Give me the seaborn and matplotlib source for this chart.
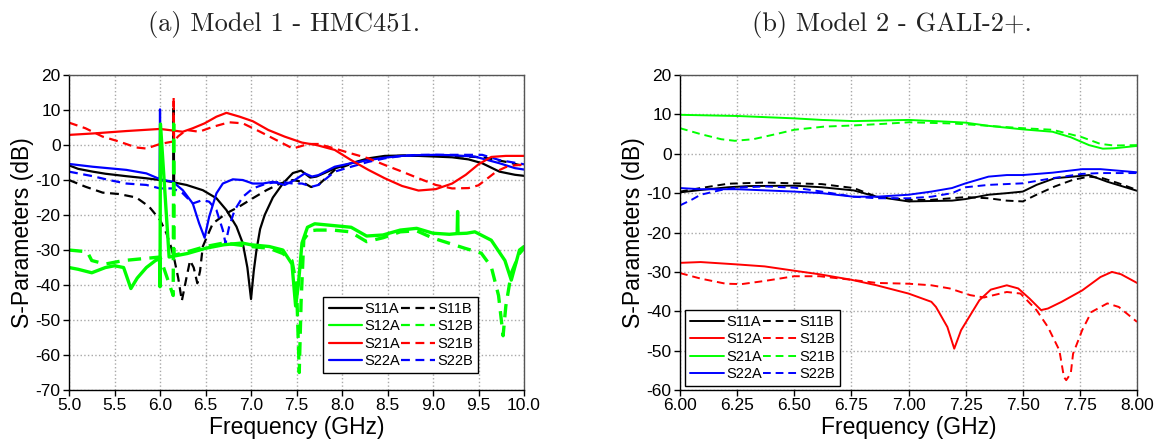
import matplotlib
matplotlib.use("Agg")
import matplotlib.pyplot as plt
from matplotlib.lines import Line2D
import seaborn as sns
import pandas as pd

sns.set_theme(style="white")
plt.rcParams["font.family"] = ["Liberation Sans", "DejaVu Sans"]
plt.rcParams["axes.unicode_minus"] = False

# ---------------- Model 1 - HMC451 (5 - 10 GHz) ----------------
hmc_s11a_f = [5.00, 5.10, 5.26, 5.40, 5.63, 5.85, 6.00, 6.145, 6.150, 6.155, 6.29, 6.47, 6.62,
              6.73, 6.84, 6.91, 6.96, 7.00, 7.03, 7.06, 7.10, 7.15, 7.24, 7.35, 7.46, 7.55, 7.65,
              7.72, 7.92, 8.10, 8.29, 8.47, 8.66, 8.84, 9.03, 9.21, 9.39, 9.54, 9.73, 9.90, 10.00]
hmc_s11a_db = [-5.8, -6.8, -7.6, -8.2, -8.9, -9.5, -10.0, -10.6, 10.5, -10.7, -11.4, -12.9, -15.2,
               -18.6, -23.3, -28.1, -35.0, -44.0, -36.0, -30.0, -24.0, -20.0, -15.0, -11.0, -8.0, -7.3, -9.3,
               -9.0, -6.7, -5.2, -3.8, -3.1, -3.0, -3.1, -3.3, -3.5, -4.1, -5.2, -7.6, -8.5, -8.8]

hmc_s11b_f = [5.00, 5.18, 5.37, 5.55, 5.74, 5.88, 6.00, 6.07, 6.12, 6.16, 6.20, 6.24, 6.29, 6.33,
              6.37, 6.41, 6.44, 6.47, 6.58, 6.73, 6.87, 7.02, 7.17, 7.32, 7.46, 7.56, 7.66, 7.74,
              7.92, 8.10, 8.29, 8.47, 8.70, 9.00, 9.21, 9.54, 9.80, 10.00]
hmc_s11b_db = [-10.0, -11.9, -13.6, -14.0, -15.0, -17.6, -21.4, -25.2, -29.0, -33.0, -38.0, -44.5, -38.0, -33.0,
               -35.0, -39.5, -36.0, -29.0, -22.4, -19.5, -17.6, -15.2, -12.9, -11.0, -10.0, -10.5, -12.0, -11.4,
               -7.1, -5.4, -4.1, -3.3, -3.0, -3.0, -3.1, -3.5, -4.8, -6.0]

hmc_s12a_f = [5.00, 5.10, 5.25, 5.40, 5.50, 5.60, 5.68, 5.75, 5.85, 5.95, 5.995, 6.000, 6.005, 6.10,
              6.30, 6.50, 6.70, 6.90, 7.00, 7.20, 7.35, 7.45, 7.49, 7.52, 7.56, 7.62, 7.70, 7.90,
              8.10, 8.27, 8.45, 8.64, 8.82, 9.00, 9.18, 9.265, 9.270, 9.275, 9.37, 9.46, 9.64, 9.79,
              9.86, 9.95, 10.00]
hmc_s12a_db = [-35.0, -35.5, -36.5, -35.0, -34.5, -35.0, -41.0, -38.0, -35.0, -33.0, -32.5, -40.5, 6.0, -32.0,
               -31.0, -29.5, -28.5, -28.0, -28.5, -29.0, -30.0, -34.0, -46.0, -40.0, -28.0, -23.5, -22.5, -23.0,
               -23.5, -26.0, -25.7, -24.3, -23.8, -25.2, -25.5, -25.3, -19.0, -25.3, -25.2, -24.8, -27.2, -33.0,
               -38.6, -30.0, -29.0]

hmc_s12b_f = [5.00, 5.20, 5.25, 5.40, 5.60, 5.80, 6.00, 6.145, 6.150, 6.155, 6.30, 6.50, 6.70, 7.00,
              7.20, 7.35, 7.45, 7.50, 7.53, 7.55, 7.58, 7.65, 7.72, 7.90, 8.09, 8.27, 8.45, 8.64,
              8.82, 9.00, 9.17, 9.35, 9.53, 9.64, 9.72, 9.77, 9.80, 9.86, 9.95, 10.00]
hmc_s12b_db = [-30.0, -30.5, -33.0, -34.0, -33.0, -32.5, -32.0, -43.0, 6.0, -31.5, -30.5, -29.0, -28.0, -29.0,
               -29.5, -31.0, -33.0, -40.0, -65.0, -45.0, -27.0, -24.5, -24.3, -24.3, -24.8, -27.6, -26.5, -24.8,
               -24.5, -26.6, -28.0, -29.5, -30.9, -34.8, -43.0, -54.5, -46.0, -36.6, -31.0, -29.5]

hmc_s21a_f = [5.00, 5.26, 5.63, 6.00, 6.25, 6.36, 6.49, 6.62, 6.73, 6.875, 7.02, 7.19, 7.37, 7.56,
              7.72, 7.92, 8.10, 8.29, 8.47, 8.66, 8.84, 9.03, 9.21, 9.36, 9.50, 9.64, 9.80, 10.00]
hmc_s21a_db = [2.9, 3.3, 4.0, 4.6, 3.8, 4.8, 6.2, 8.1, 9.2, 8.1, 6.8, 4.3, 2.4, 0.7,
               0.0, -1.4, -4.3, -7.1, -9.5, -11.7, -13.0, -12.6, -11.0, -8.5, -5.5, -3.4, -3.1, -3.1]

hmc_s21b_f = [5.00, 5.18, 5.37, 5.55, 5.74, 5.85, 6.00, 6.10, 6.145, 6.150, 6.155, 6.20, 6.29, 6.43,
              6.58, 6.76, 6.91, 7.10, 7.28, 7.46, 7.63, 7.74, 7.92, 8.10, 8.29, 8.47, 8.66, 8.84,
              9.03, 9.21, 9.39, 9.50, 9.60, 9.70, 9.80, 9.90, 10.00]
hmc_s21b_db = [6.4, 4.8, 2.4, 1.0, -0.7, -1.0, 0.3, 0.8, 1.0, 13.8, 1.2, 2.5, 4.3, 3.8,
               5.2, 6.5, 6.2, 3.8, 1.4, -1.0, 0.3, 0.3, -1.0, -2.4, -3.8, -5.7, -7.6, -9.5,
               -11.4, -12.4, -12.3, -11.5, -9.5, -7.5, -6.3, -5.8, -5.6]

hmc_s22a_f = [5.00, 5.26, 5.63, 5.85, 5.995, 6.000, 6.005, 6.14, 6.25, 6.36, 6.43, 6.49, 6.54, 6.62,
              6.69, 6.80, 6.91, 7.02, 7.13, 7.24, 7.37, 7.48, 7.59, 7.67, 7.74, 7.92, 8.10, 8.29,
              8.47, 8.66, 8.84, 9.03, 9.21, 9.46, 9.73, 9.90, 10.00]
hmc_s22a_db = [-5.4, -6.2, -7.1, -8.1, -9.7, 10.2, -9.8, -10.5, -12.9, -16.7, -22.4, -26.5, -20.5, -13.8,
               -11.0, -9.8, -10.0, -11.0, -11.0, -10.5, -11.4, -10.0, -8.1, -9.0, -8.6, -6.2, -5.2, -4.3,
               -3.6, -3.1, -2.9, -2.8, -2.9, -3.3, -5.2, -6.6, -7.0]

hmc_s22b_f = [5.00, 5.26, 5.44, 5.63, 5.85, 6.00, 6.14, 6.25, 6.36, 6.47, 6.54, 6.62, 6.69, 6.72,
              6.76, 6.82, 6.91, 7.02, 7.17, 7.32, 7.46, 7.56, 7.67, 7.74, 7.92, 8.10, 8.29, 8.47,
              8.66, 8.84, 9.20, 9.54, 9.73, 9.93, 10.00]
hmc_s22b_db = [-7.6, -8.9, -10.0, -11.0, -11.4, -12.4, -12.4, -13.8, -16.7, -15.7, -16.2, -18.6, -24.3, -28.1,
               -23.3, -18.6, -14.8, -12.4, -11.0, -10.5, -11.0, -11.0, -11.9, -11.4, -7.6, -6.2, -4.8, -3.8,
               -3.1, -2.8, -2.8, -2.8, -4.3, -5.2, -5.5]

# ---------------- Model 2 - GALI-2+ (6 - 8 GHz) ----------------
gali_s11a_f = [6.00, 6.09, 6.21, 6.30, 6.50, 6.62, 6.76, 6.86, 7.00, 7.19, 7.25, 7.35, 7.43, 7.50,
               7.56, 7.64, 7.72, 7.79, 7.87, 8.00]
gali_s11a_db = [-9.8, -9.2, -8.5, -8.2, -8.1, -8.5, -9.3, -10.9, -12.1, -11.9, -11.5, -10.4, -10.0, -9.6,
                -7.9, -6.2, -5.8, -5.4, -7.1, -9.4]

gali_s11b_f = [6.00, 6.09, 6.21, 6.37, 6.50, 6.62, 6.76, 6.86, 7.00, 7.10, 7.25, 7.35, 7.43, 7.50,
               7.56, 7.64, 7.72, 7.79, 7.85, 7.92, 8.00]
gali_s11b_db = [-9.6, -8.7, -7.6, -7.3, -7.5, -7.7, -8.7, -10.9, -11.7, -11.7, -11.0, -11.3, -11.9, -12.1,
                -10.4, -8.3, -6.6, -5.8, -6.2, -7.5, -9.2]

gali_s12a_f = [6.00, 6.09, 6.25, 6.37, 6.50, 6.61, 6.75, 6.86, 7.00, 7.10, 7.12, 7.17, 7.20, 7.23,
               7.27, 7.31, 7.36, 7.43, 7.48, 7.53, 7.58, 7.61, 7.67, 7.76, 7.84, 7.89, 7.93, 8.00]
gali_s12a_db = [-27.7, -27.5, -28.1, -28.6, -29.7, -30.6, -32.0, -33.4, -35.5, -37.6, -38.9, -44.0, -49.5, -44.8,
                -41.0, -37.2, -34.5, -33.4, -34.2, -36.8, -39.7, -39.3, -37.6, -34.7, -31.3, -30.0, -30.6, -32.8]

gali_s12b_f = [6.00, 6.09, 6.20, 6.27, 6.37, 6.50, 6.61, 6.75, 6.86, 7.00, 7.10, 7.18, 7.27, 7.33,
               7.43, 7.49, 7.56, 7.61, 7.66, 7.68, 7.69, 7.71, 7.72, 7.76, 7.80, 7.87, 7.92, 8.00]
gali_s12b_db = [-30.3, -31.7, -33.0, -33.1, -32.3, -31.1, -31.1, -32.0, -32.8, -33.0, -33.4, -34.2, -35.9, -36.5,
                -35.1, -35.5, -39.7, -44.0, -49.9, -56.7, -57.5, -55.8, -50.8, -44.8, -40.2, -38.0, -38.9, -42.7]

gali_s21a_f = [6.00, 6.25, 6.50, 6.62, 6.76, 7.00, 7.19, 7.25, 7.35, 7.50, 7.63, 7.71, 7.79, 7.85,
               7.90, 8.00]
gali_s21a_db = [9.9, 9.6, 9.0, 8.6, 8.3, 8.6, 8.1, 7.9, 7.1, 6.2, 5.6, 4.2, 2.2, 1.3,
                1.4, 2.0]

gali_s21b_f = [6.00, 6.09, 6.18, 6.24, 6.32, 6.42, 6.50, 6.63, 6.76, 6.89, 7.00, 7.19, 7.25, 7.35,
               7.50, 7.63, 7.76, 7.84, 7.90, 8.00]
gali_s21b_db = [6.5, 5.0, 3.7, 3.3, 3.7, 5.0, 6.1, 6.9, 7.2, 7.6, 8.0, 7.7, 7.5, 7.1,
                6.5, 6.1, 4.2, 2.5, 2.1, 2.2]

gali_s22a_f = [6.00, 6.09, 6.25, 6.50, 6.62, 6.76, 6.86, 7.00, 7.10, 7.19, 7.25, 7.35, 7.43, 7.50,
               7.63, 7.76, 7.84, 7.92, 8.00]
gali_s22a_db = [-8.7, -9.0, -9.0, -9.6, -10.0, -10.9, -10.9, -10.4, -9.6, -8.7, -7.5, -5.8, -5.4, -5.4,
                -4.8, -3.9, -3.9, -4.3, -4.7]

gali_s22b_f = [6.00, 6.05, 6.09, 6.18, 6.25, 6.37, 6.50, 6.62, 6.76, 6.86, 7.00, 7.10, 7.19, 7.25,
               7.35, 7.50, 7.63, 7.76, 7.84, 8.00]
gali_s22b_db = [-13.1, -11.7, -10.4, -9.2, -8.6, -8.3, -8.6, -9.6, -10.9, -11.3, -11.3, -10.9, -10.0, -8.5,
                -7.9, -7.5, -6.2, -5.1, -4.9, -4.9]

PARAMS = ["S11", "S12", "S21", "S22"]
BLACK, GREEN, RED, BLUE = "#000000", "#00ff00", "#ff0000", "#0000ff"
DASH = (0, (4, 2.5))

hmc_colors = {"S11": BLACK, "S12": GREEN, "S21": RED, "S22": BLUE}
gali_colors = {"S11": BLACK, "S12": RED, "S21": GREEN, "S22": BLUE}

hmc_series = {
    "S11A": (hmc_s11a_f, hmc_s11a_db), "S11B": (hmc_s11b_f, hmc_s11b_db),
    "S22A": (hmc_s22a_f, hmc_s22a_db), "S22B": (hmc_s22b_f, hmc_s22b_db),
    "S21A": (hmc_s21a_f, hmc_s21a_db), "S21B": (hmc_s21b_f, hmc_s21b_db),
    "S12A": (hmc_s12a_f, hmc_s12a_db), "S12B": (hmc_s12b_f, hmc_s12b_db),
}
gali_series = {
    "S11A": (gali_s11a_f, gali_s11a_db), "S11B": (gali_s11b_f, gali_s11b_db),
    "S22A": (gali_s22a_f, gali_s22a_db), "S22B": (gali_s22b_f, gali_s22b_db),
    "S12A": (gali_s12a_f, gali_s12a_db), "S12B": (gali_s12b_f, gali_s12b_db),
    "S21A": (gali_s21a_f, gali_s21a_db), "S21B": (gali_s21b_f, gali_s21b_db),
}


def draw_panel(ax, series, colors, lw, thick=None):
    for name, (freq, db) in series.items():
        param, meas = name[:3], name[3]
        width = thick[1] if (thick and param == thick[0]) else lw
        df = pd.DataFrame({"Frequency": freq, "dB": db})
        sns.lineplot(data=df, x="Frequency", y="dB", ax=ax, color=colors[param],
                     linewidth=width, linestyle="-" if meas == "A" else DASH,
                     sort=False, estimator=None, errorbar=None)


def style_axes(ax, xlim, ylim, xticks, yticks, xfmt):
    ax.set_xlim(*xlim)
    ax.set_ylim(*ylim)
    ax.set_xticks(xticks)
    ax.set_xticklabels([xfmt.format(t) for t in xticks])
    ax.set_yticks(yticks)
    ax.set_yticklabels([f"{t:d}" for t in yticks])
    ax.grid(True, color="#a8a8a8", linestyle=":", linewidth=1.0)
    ax.set_axisbelow(True)
    for side in ("left", "bottom"):
        ax.spines[side].set_color("black")
        ax.spines[side].set_linewidth(1.0)
    for side in ("top", "right"):
        ax.spines[side].set_color("#555555")
        ax.spines[side].set_linewidth(1.0)
    ax.tick_params(axis="both", which="major", direction="out", length=4, width=1,
                   bottom=True, left=True, color="black", labelcolor="black",
                   labelsize=12.5, pad=2)
    ax.set_xlabel("Frequency (GHz)", fontsize=16.5, color="black", labelpad=2)
    ax.set_ylabel("S-Parameters (dB)", fontsize=16.5, color="black", labelpad=1)


def add_legend(ax, colors, lw, **kw):
    handles, labels = [], []
    for meas in ("A", "B"):
        for p in PARAMS:
            handles.append(Line2D([], [], color=colors[p], linewidth=lw,
                                  linestyle="-" if meas == "A" else DASH))
            labels.append(p + meas)
    leg = ax.legend(handles, labels, ncol=2, frameon=True, fancybox=False,
                    edgecolor="black", framealpha=1, fontsize=10.5,
                    handlelength=2.3, handletextpad=0.15, columnspacing=0.1,
                    labelspacing=0.22, borderpad=0.35, borderaxespad=0, **kw)
    leg.get_frame().set_linewidth(1.0)
    for t in leg.get_texts():
        t.set_color("black")


fig = plt.figure(figsize=(11.54, 4.43), dpi=100)
ax1 = fig.add_axes([0.0598, 0.1196, 0.3943, 0.711])
ax2 = fig.add_axes([0.5893, 0.1196, 0.396, 0.711])

draw_panel(ax1, hmc_series, hmc_colors, lw=1.6, thick=("S12", 2.4))
style_axes(ax1, (5.0, 10.0), (-70, 20), [5.0 + 0.5 * i for i in range(11)],
           list(range(20, -71, -10)), "{:.1f}")
add_legend(ax1, hmc_colors, 1.6, loc="lower right", bbox_to_anchor=(0.899, 0.054))

draw_panel(ax2, gali_series, gali_colors, lw=1.4)
style_axes(ax2, (6.0, 8.0), (-60, 20), [6.0 + 0.25 * i for i in range(9)],
           list(range(20, -61, -10)), "{:.2f}")
add_legend(ax2, gali_colors, 1.4, loc="lower left", bbox_to_anchor=(0.011, 0.013))

fig.text(284 / 1154, 1 - 25 / 443, "(a) Model 1 - HMC451.", family="cmr10",
         fontsize=19, ha="center", va="center", color="#222222")
fig.text(892 / 1154, 1 - 25 / 443, "(b) Model 2 - GALI-2+.", family="cmr10",
         fontsize=19, ha="center", va="center", color="#222222")

fig.savefig("out.png", dpi=100, facecolor="white")
